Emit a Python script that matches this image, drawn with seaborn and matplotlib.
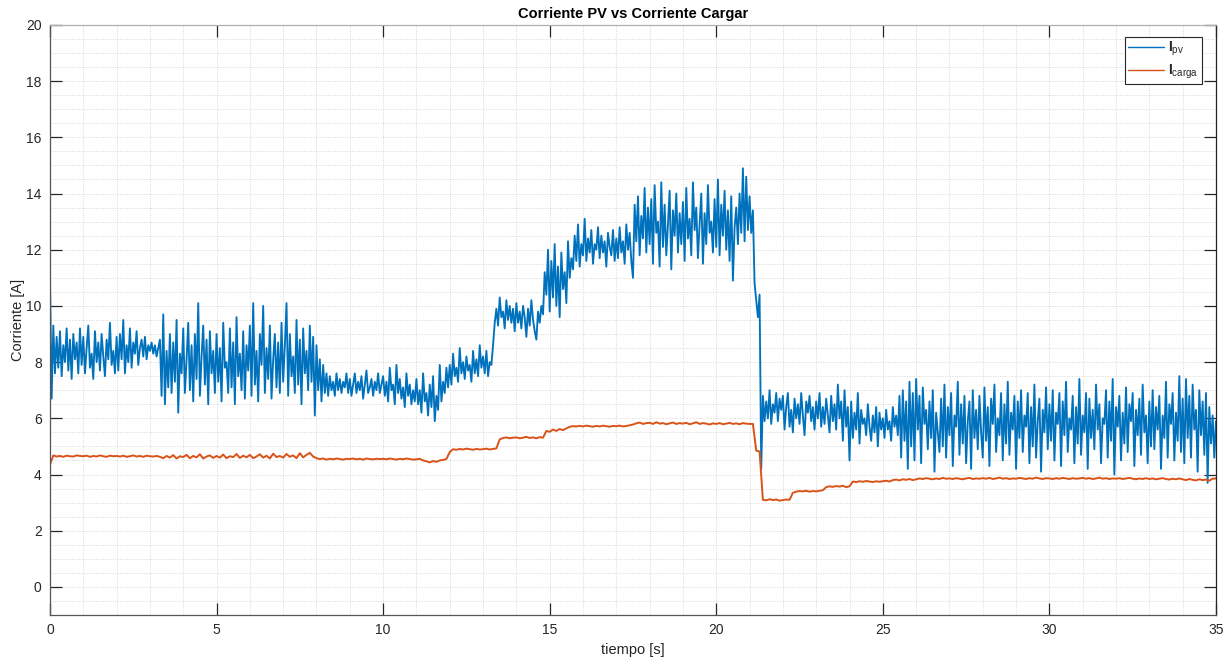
import numpy as np
import pandas as pd
import matplotlib
matplotlib.use("Agg")
import matplotlib.pyplot as plt
import seaborn as sns

# Corriente PV, una fila por segundo (paso 0.05 s)
i_pv = [
    11.0, 6.7, 9.3, 7.6, 8.9, 7.8, 9.1, 7.5, 8.6, 8.0, 9.2, 7.7, 8.8, 7.4, 9.0, 8.1, 8.7, 7.6, 9.2, 7.9,
    8.9, 7.6, 8.5, 9.3, 7.8, 8.3, 7.4, 9.1, 8.0, 8.7, 7.7, 9.0, 8.2, 7.5, 8.8, 8.1, 9.4, 7.9, 8.4, 7.6,
    8.9, 7.7, 9.0, 8.1, 9.5, 7.6, 8.6, 8.0, 9.2, 7.8, 8.7, 8.3, 9.1, 7.9, 8.5, 8.8, 8.2, 8.9, 8.1, 8.6,
    8.4, 8.7, 8.3, 8.6, 8.2, 8.5, 8.8, 6.8, 9.7, 6.5, 8.4, 7.1, 9.0, 6.9, 8.7, 7.3, 9.5, 6.2, 8.3, 7.6,
    9.2, 6.9, 8.1, 9.4, 7.0, 8.6, 6.6, 9.0, 7.4, 10.1, 6.8, 8.2, 9.3, 7.2, 8.8, 6.5, 9.1, 7.6, 8.4, 6.9,
    9.0, 7.3, 8.5, 6.6, 9.4, 7.8, 8.0, 6.9, 9.2, 7.1, 8.7, 6.5, 9.6, 7.5, 8.3, 7.0, 9.1, 6.7, 8.6, 7.7,
    9.3, 6.8, 10.1, 7.2, 8.4, 6.6, 9.0, 7.9, 10.0, 6.9, 8.5, 7.4, 9.3, 6.7, 8.1, 9.0, 7.1, 8.7, 6.9, 9.4,
    7.3, 8.6, 10.1, 6.8, 9.0, 7.5, 8.2, 6.9, 9.5, 7.2, 8.8, 6.5, 9.2, 7.6, 8.4, 7.0, 9.3, 7.3, 8.9, 6.1,
    8.6, 7.0, 8.1, 6.6, 7.9, 6.9, 7.6, 6.8, 7.5, 7.0, 7.3, 6.8, 7.6, 7.0, 7.4, 6.9, 7.3, 7.1, 7.6, 6.9,
    7.4, 6.8, 7.2, 7.6, 6.9, 7.3, 7.0, 7.5, 6.7, 7.2, 7.7, 6.9, 7.1, 7.4, 6.8, 7.3, 7.0, 7.6, 6.9, 7.2,
    7.5, 6.8, 7.3, 6.6, 7.8, 7.0, 7.2, 6.5, 7.9, 6.9, 7.4, 6.7, 7.1, 6.4, 7.6, 6.8, 7.2, 6.5, 7.0, 6.6,
    7.4, 6.5, 7.0, 6.2, 7.6, 6.6, 6.9, 6.1, 7.2, 6.4, 7.5, 5.9, 6.8, 6.3, 7.9, 6.6, 7.3, 6.9, 7.8, 7.1,
    7.9, 7.2, 8.3, 7.5, 7.8, 7.3, 8.5, 7.6, 8.0, 7.4, 8.2, 7.7, 7.9, 7.3, 8.4, 7.6, 8.1, 7.5, 8.6, 7.8,
    8.2, 7.6, 8.4, 7.5, 8.0, 7.9, 8.6, 9.4, 9.9, 9.3, 10.3, 9.6, 9.8, 9.2, 10.2, 9.5, 10.0, 9.4, 9.9, 9.1,
    10.1, 9.4, 9.8, 9.2, 10.0, 9.6, 8.9, 9.9, 9.3, 10.2, 9.5, 9.1, 8.8, 9.8, 9.4, 10.0, 9.7, 11.2, 10.4, 12.0,
    9.8, 11.6, 10.3, 12.2, 10.0, 11.4, 9.6, 11.9, 10.6, 11.2, 10.1, 12.3, 11.0, 11.7, 11.3, 12.5, 11.6, 12.9, 11.4, 12.2,
    11.8, 13.1, 11.6, 12.4, 11.9, 12.7, 11.5, 12.2, 12.0, 12.8, 11.7, 12.5, 11.9, 12.3, 11.4, 12.6, 12.1, 11.8, 12.7, 11.6,
    12.4, 11.7, 12.8, 11.9, 12.3, 11.5, 12.9, 12.0, 12.6, 11.6, 11.0, 13.6, 12.3, 13.9, 11.8, 13.2, 12.4, 14.2, 11.9, 13.5,
    12.2, 13.8, 11.5, 14.3, 12.6, 13.0, 11.4, 14.4, 12.1, 13.6, 11.8, 12.9, 14.1, 11.3, 13.4, 12.5, 14.0, 11.9, 13.3, 12.2,
    13.7, 11.6, 14.2, 12.4, 13.1, 11.8, 14.4, 12.7, 13.5, 11.7, 12.9, 14.0, 11.5, 13.3, 12.2, 14.3, 12.6, 13.0, 11.9, 13.8,
    12.1, 14.5, 11.8, 13.6, 12.5, 14.1, 12.0, 13.4, 11.6, 13.9, 10.9, 12.8, 13.5, 12.2, 14.0, 12.6, 14.9, 12.3, 14.6, 12.7,
    13.9, 12.6, 13.4, 10.8, 10.2, 9.6, 10.4, 4.2, 6.8, 5.9, 6.6, 6.0, 7.0, 5.8, 6.5, 6.2, 6.9, 5.9, 6.7, 6.3,
    6.8, 5.6, 6.4, 6.9, 5.7, 6.3, 5.5, 6.7, 6.0, 6.5, 5.8, 6.9, 6.1, 5.4, 6.6, 6.2, 6.8, 5.9, 6.4, 5.6,
    6.6, 6.0, 6.9, 5.7, 6.4, 5.8, 6.7, 6.1, 5.5, 6.8, 5.9, 6.5, 5.6, 7.2, 6.0, 6.6, 5.2, 7.0, 5.7, 6.4,
    4.5, 6.6, 5.3, 6.2, 5.6, 6.9, 5.1, 6.3, 5.8, 6.0, 5.4, 6.5, 5.7, 5.2, 6.1, 5.5, 6.4, 5.0, 6.2, 5.6,
    6.0, 5.3, 6.3, 5.6, 5.9, 5.2, 6.4, 5.7, 6.1, 5.4, 6.8, 4.6, 7.0, 5.2, 6.6, 4.2, 7.3, 5.0, 6.9, 4.5,
    7.4, 5.6, 6.8, 4.4, 7.1, 5.8, 6.3, 4.9, 6.6, 5.3, 7.0, 4.1, 6.2, 5.5, 4.8, 6.7, 5.0, 7.2, 4.6, 6.4,
    5.4, 6.9, 4.3, 6.1, 5.7, 7.3, 4.7, 6.5, 5.1, 6.8, 4.4, 5.9, 6.6, 4.2, 7.0, 5.3, 6.3, 4.9, 6.8, 5.5,
    4.6, 7.1, 5.2, 6.4, 4.3, 6.7, 5.8, 7.2, 4.8, 6.0, 5.4, 6.9, 4.5, 6.5, 5.1, 7.3, 4.7, 6.2, 5.6, 6.8,
    4.2, 6.6, 5.3, 7.0, 4.8, 6.1, 5.7, 6.9, 4.4, 6.4, 5.0, 7.2, 4.6, 5.9, 6.7, 4.1, 6.3, 5.5, 7.1, 4.9,
    6.5, 5.2, 7.0, 4.5, 6.2, 5.8, 6.9, 4.3, 6.6, 5.4, 7.3, 4.8, 6.0, 5.6, 6.8, 4.4, 6.4, 5.1, 7.4, 4.7,
    6.1, 5.5, 6.9, 4.2, 6.7, 5.3, 6.3, 4.9, 7.2, 5.6, 6.5, 4.4, 6.0, 5.8, 7.0, 4.6, 6.6, 5.2, 7.4, 4.0,
    6.4, 5.7, 6.8, 4.5, 6.2, 5.1, 7.1, 4.8, 6.5, 5.9, 6.9, 4.3, 6.3, 5.4, 6.7, 4.7, 7.2, 5.5, 6.1, 4.4,
    6.6, 5.0, 7.0, 4.9, 6.4, 5.6, 6.8, 4.2, 6.1, 5.3, 7.3, 4.6, 6.5, 5.8, 6.9, 4.5, 6.2, 5.2, 7.5, 4.8,
    6.7, 4.4, 7.4, 5.3, 6.8, 4.6, 7.2, 5.6, 6.3, 4.1, 7.0, 5.4, 6.6, 4.7, 6.9, 3.7, 6.4, 5.1, 6.1, 4.6,
    5.9,
]

# Corriente de carga, una fila por segundo (paso 0.1 s)
i_carga = [
    4.35, 4.68, 4.64, 4.66, 4.63, 4.67, 4.65, 4.64, 4.68, 4.66,
    4.65, 4.67, 4.63, 4.66, 4.64, 4.68, 4.65, 4.63, 4.67, 4.65,
    4.66, 4.64, 4.67, 4.63, 4.65, 4.68, 4.64, 4.66, 4.63, 4.67,
    4.65, 4.64, 4.66, 4.63, 4.58, 4.66, 4.60, 4.69, 4.57, 4.65,
    4.62, 4.70, 4.58, 4.66, 4.61, 4.72, 4.57, 4.64, 4.68, 4.59,
    4.66, 4.60, 4.71, 4.58, 4.65, 4.62, 4.73, 4.59, 4.67, 4.61,
    4.70, 4.58, 4.64, 4.72, 4.60, 4.67, 4.57, 4.74, 4.62, 4.66,
    4.60, 4.73, 4.63, 4.68, 4.58, 4.76, 4.61, 4.70, 4.77, 4.64,
    4.58, 4.55, 4.57, 4.53, 4.56, 4.54, 4.57, 4.55, 4.53, 4.56,
    4.55, 4.57, 4.54, 4.56, 4.53, 4.57, 4.55, 4.54, 4.56, 4.55,
    4.56, 4.54, 4.57, 4.55, 4.53, 4.56, 4.54, 4.57, 4.55, 4.53,
    4.54, 4.56, 4.50, 4.47, 4.43, 4.48, 4.45, 4.50, 4.52, 4.55,
    4.80, 4.90, 4.88, 4.91, 4.89, 4.92, 4.90, 4.88, 4.91, 4.89,
    4.90, 4.92, 4.89, 4.91, 4.93, 5.25, 5.30, 5.32, 5.29, 5.31,
    5.32, 5.29, 5.31, 5.34, 5.30, 5.32, 5.29, 5.33, 5.31, 5.55,
    5.52, 5.60, 5.55, 5.62, 5.58, 5.64, 5.70, 5.72, 5.71, 5.73,
    5.71, 5.74, 5.72, 5.70, 5.73, 5.71, 5.74, 5.72, 5.70, 5.73,
    5.72, 5.74, 5.71, 5.73, 5.75, 5.78, 5.82, 5.85, 5.80, 5.83,
    5.84, 5.80, 5.86, 5.81, 5.83, 5.79, 5.82, 5.85, 5.80, 5.83,
    5.81, 5.84, 5.79, 5.82, 5.86, 5.80, 5.83, 5.81, 5.78, 5.82,
    5.80, 5.83, 5.79, 5.81, 5.84, 5.80, 5.82, 5.79, 5.83, 5.81,
    5.80, 5.80, 4.85, 4.82, 3.10, 3.08, 3.12, 3.09, 3.11, 3.07,
    3.09, 3.11, 3.10, 3.35, 3.39, 3.41, 3.40, 3.42, 3.39, 3.41,
    3.40, 3.42, 3.44, 3.55, 3.58, 3.56, 3.59, 3.57, 3.60, 3.55,
    3.58, 3.75, 3.73, 3.76, 3.74, 3.77, 3.75, 3.73, 3.76, 3.74,
    3.76, 3.78, 3.75, 3.80, 3.82, 3.79, 3.83, 3.81, 3.84, 3.80,
    3.83, 3.86, 3.84, 3.87, 3.85, 3.83, 3.86, 3.84, 3.88, 3.85,
    3.86, 3.84, 3.87, 3.85, 3.83, 3.86, 3.88, 3.84, 3.86, 3.85,
    3.87, 3.85, 3.88, 3.84, 3.86, 3.89, 3.85, 3.87, 3.84, 3.86,
    3.85, 3.88, 3.86, 3.84, 3.87, 3.85, 3.89, 3.86, 3.84, 3.87,
    3.86, 3.84, 3.87, 3.85, 3.88, 3.86, 3.84, 3.87, 3.85, 3.86,
    3.88, 3.85, 3.87, 3.84, 3.86, 3.89, 3.85, 3.87, 3.84, 3.86,
    3.85, 3.87, 3.84, 3.86, 3.88, 3.85, 3.83, 3.86, 3.84, 3.87,
    3.84, 3.86, 3.83, 3.85, 3.87, 3.84, 3.82, 3.85, 3.83, 3.86,
    3.83, 3.80, 3.84, 3.81, 3.79, 3.83, 3.80, 3.82, 3.78, 3.85,
    3.86,
]

x_ticks = [0, 5, 10, 15, 20, 25, 30, 35]
y_ticks = [0, 2, 4, 6, 8, 10, 12, 14, 16, 18, 20]

df_pv = pd.DataFrame({"t": np.arange(len(i_pv)) * 0.05, "I": i_pv})
df_carga = pd.DataFrame({"t": np.arange(len(i_carga)) * 0.1, "I": i_carga})

sns.set_style("white")
plt.rcParams["font.family"] = ["Liberation Sans", "DejaVu Sans"]
plt.rcParams["mathtext.fontset"] = "custom"
plt.rcParams["mathtext.rm"] = "Liberation Sans"
plt.rcParams["mathtext.bf"] = "Liberation Sans:bold"

fig = plt.figure(figsize=(12.28, 6.6), dpi=100)
ax = fig.add_axes([0.0407, 0.0682, 0.9495, 0.8940])

sns.lineplot(data=df_pv, x="t", y="I", ax=ax, color="#0072BD", linewidth=1.35,
             estimator=None, label=r"$\mathbf{I}_{\mathrm{pv}}$")
sns.lineplot(data=df_carga, x="t", y="I", ax=ax, color="#D95319", linewidth=1.4,
             estimator=None, label=r"$\mathbf{I}_{\mathrm{carga}}$")

ax.set_xlim(0, 35)
ax.set_ylim(-1, 20)
ax.set_xticks(x_ticks)
ax.set_yticks(y_ticks)
ax.set_xticks(np.arange(0, 36, 1), minor=True)
ax.set_yticks(np.arange(-1, 20.5, 0.5), minor=True)

ax.grid(True, which="both", linestyle=":", color="#d2d2d2", linewidth=0.65)
ax.set_axisbelow(True)

ax.tick_params(axis="both", which="major", direction="in", length=8.5, width=0.9,
               left=True, bottom=True, top=True, right=True, labelsize=10,
               color="#262626", labelcolor="#262626", pad=6)
ax.tick_params(axis="both", which="minor", length=0)

ax.spines["left"].set_color("#555555")
ax.spines["bottom"].set_color("#555555")
ax.spines["top"].set_color("#b0b0b0")
ax.spines["right"].set_color("#262626")
for s in ax.spines.values():
    s.set_linewidth(0.9)

ax.set_title("Corriente PV vs Corriente Cargar", fontsize=10.5, fontweight="bold",
             color="#000000", pad=5)
ax.set_xlabel("tiempo [s]", fontsize=10.5, color="#262626", labelpad=4)
ax.set_ylabel("Corriente [A]", fontsize=10.5, color="#262626", labelpad=1)

leg = ax.legend(loc="upper right", bbox_to_anchor=(0.9905, 0.985), fontsize=10,
                frameon=True, fancybox=False, framealpha=1, edgecolor="#262626",
                handlelength=2.6, handletextpad=0.3, borderpad=0.25,
                labelspacing=0.3, borderaxespad=0.2)
leg.get_frame().set_linewidth(0.8)
for line in leg.get_lines():
    line.set_linewidth(1.0)

fig.savefig("out.png", dpi=100)
